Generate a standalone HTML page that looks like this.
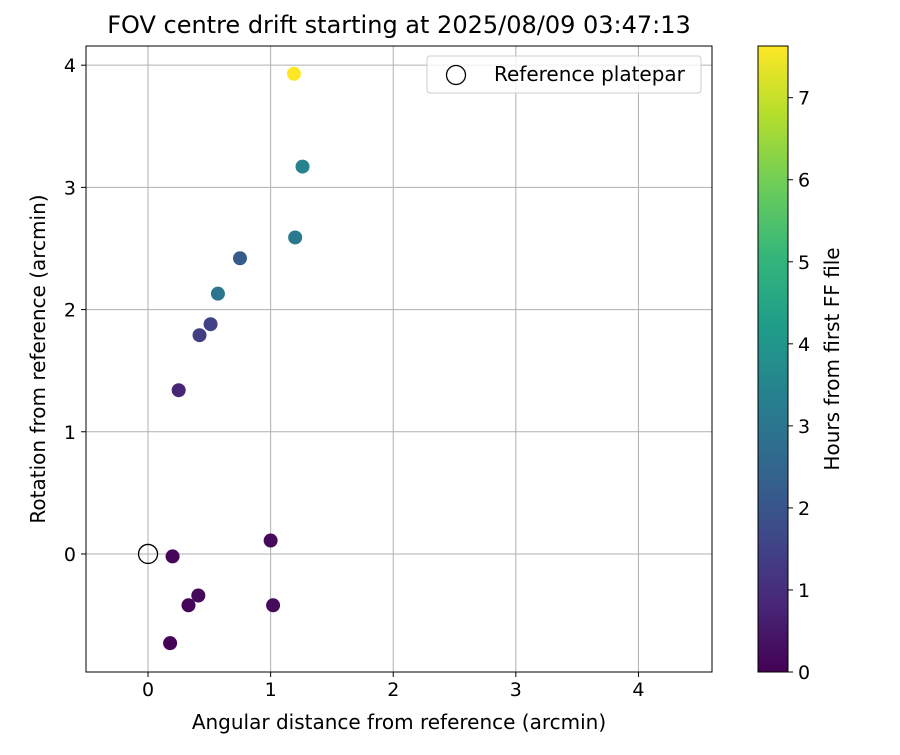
<!DOCTYPE html>
<html><head><meta charset="utf-8"><style>
body{margin:0;background:#fff;font-family:"Liberation Sans","DejaVu Sans",sans-serif}
svg text{font-family:"DejaVu Sans","Liberation Sans",sans-serif;fill:#000}
</style></head><body>
<svg id="c" width="900" height="750"></svg>
<script>
const xs=[0.2,0.33,0.41,0.18,1.0,1.02,0.25,0.42,0.51,0.57,0.75,1.2,1.26,1.19];
const ys=[-0.02,-0.42,-0.34,-0.73,0.11,-0.42,1.34,1.79,1.88,2.13,2.42,2.59,3.17,3.93];
const hours=[0.1,0.1,0.15,0.05,0.2,0.2,0.8,1.4,1.5,3.0,2.2,3.1,3.4,7.63];
const xTicks=[0,1,2,3,4];
const yTicks=[0,1,2,3,4];
const cTicks=[0,1,2,3,4,5,6,7];
const L=86,R=712,T=46,B=672;
const X0=-0.506,X1=4.6,Y0=-0.966,Y1=4.157,CMAX=7.63;
const sx=v=>L+(v-X0)/(X1-X0)*(R-L);
const sy=v=>B-(v-Y0)/(Y1-Y0)*(B-T);
const CT=46,CB=672,CL=758,CR=788;
const sc=v=>CB-v/CMAX*(CB-CT);
const vir=[[68,1,84],[72,40,120],[62,74,137],[49,104,142],[38,130,142],[31,158,137],[53,183,121],[109,205,89],[180,222,44],[253,231,37]];
function vcol(t){t=Math.max(0,Math.min(1,t))*(vir.length-1);const i=Math.min(Math.floor(t),vir.length-2),f=t-i;
const c=vir[i].map((a,k)=>Math.round(a+(vir[i+1][k]-a)*f));return`rgb(${c})`;}
const svg=document.getElementById('c');const NS='http://www.w3.org/2000/svg';
function el(tag,at,txt){const e=document.createElementNS(NS,tag);for(const k in at)e.setAttribute(k,at[k]);if(txt!=null)e.textContent=txt;svg.appendChild(e);return e;}
let e;
e=el('text',{x:399,y:33,'font-size':24,'text-anchor':'middle'},'FOV centre drift starting at 2025/08/09 03:47:13');


xTicks.forEach(v=>{const x=sx(v);
e=el('line',{x1:x,x2:x,y1:T,y2:B,stroke:'#b0b0b0','stroke-width':1});


el('line',{x1:x,x2:x,y1:B,y2:B+5,stroke:'#000'});
e=el('text',{x:x,y:B+24,'font-size':19,'text-anchor':'middle'},String(v));

});
yTicks.forEach(v=>{const y=sy(v);
e=el('line',{x1:L,x2:R,y1:y,y2:y,stroke:'#b0b0b0','stroke-width':1});


el('line',{x1:L-5,x2:L,y1:y,y2:y,stroke:'#000'});
e=el('text',{x:L-10,y:y+7,'font-size':19,'text-anchor':'end'},String(v));

});
e=el('circle',{cx:sx(0),cy:sy(0),r:9.5,fill:'none',stroke:'#000','stroke-width':1.3});


xs.forEach((v,i)=>{e=el('circle',{cx:sx(v),cy:sy(ys[i]),r:7,fill:vcol(hours[i]/CMAX)});

});
e=el('rect',{x:L,y:T,width:R-L,height:B-T,fill:'none',stroke:'#000','stroke-width':1});


e=el('rect',{x:427,y:56,width:274,height:37,rx:3,fill:'#fff','fill-opacity':0.8,stroke:'#ccc'});


el('circle',{cx:456,cy:75,r:9.5,fill:'none',stroke:'#000','stroke-width':1.3});
e=el('text',{x:494,y:81,'font-size':20},'Reference platepar');


e=el('text',{x:399,y:729,'font-size':20,'text-anchor':'middle'},'Angular distance from reference (arcmin)');


e=el('text',{x:0,y:0,'font-size':20,'text-anchor':'middle',transform:`translate(45,359) rotate(-90)`},'Rotation from reference (arcmin)');


const defs=el('defs',{});const g=document.createElementNS(NS,'linearGradient');
g.setAttribute('id','vg');g.setAttribute('x1','0');g.setAttribute('y1','1');g.setAttribute('x2','0');g.setAttribute('y2','0');
vir.forEach((c,i)=>{const s=document.createElementNS(NS,'stop');s.setAttribute('offset',i/(vir.length-1));s.setAttribute('stop-color',`rgb(${c})`);g.appendChild(s);});
defs.appendChild(g);
e=el('rect',{x:CL,y:CT,width:CR-CL,height:CB-CT,fill:'url(#vg)',stroke:'#000','stroke-width':1});


cTicks.forEach(v=>{const y=sc(v);el('line',{x1:CR,x2:CR+5,y1:y,y2:y,stroke:'#000'});
e=el('text',{x:CR+10,y:y+7,'font-size':19},String(v));

});
e=el('text',{x:0,y:0,'font-size':20,'text-anchor':'middle',transform:`translate(839,359) rotate(-90)`},'Hours from first FF file');


</script></body></html>
